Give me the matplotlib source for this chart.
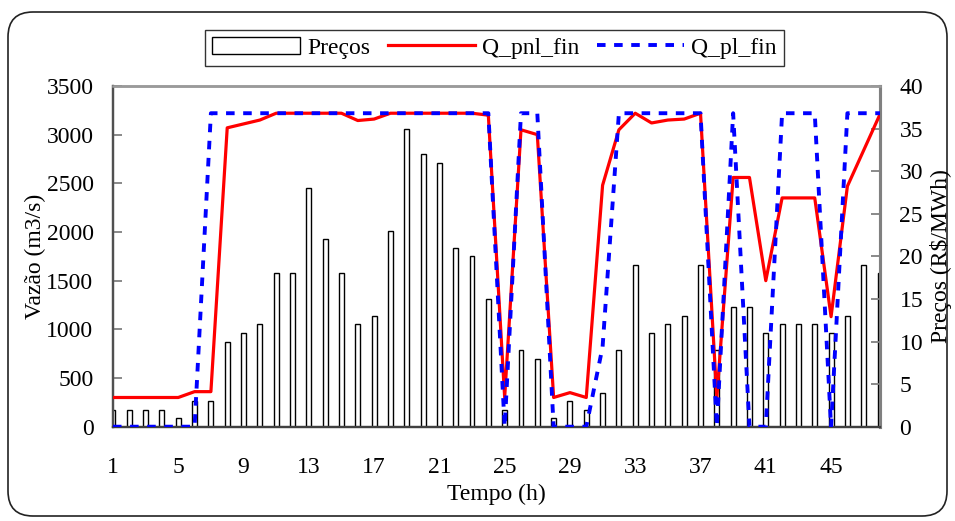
import matplotlib
matplotlib.use("Agg")
import matplotlib.pyplot as plt
from matplotlib.patches import FancyBboxPatch

# Hourly series (48 h horizon)
hours = list(range(1, 49))
precos = [2, 2, 2, 2, 1, 3, 3, 10, 11, 12,
          18, 18, 28, 22, 18, 12, 13, 23, 35, 32,
          31, 21, 20, 15, 2, 9, 8, 1, 3, 2,
          4, 9, 19, 11, 12, 13, 19, 9, 14, 14,
          11, 12, 12, 12, 11, 13, 19, 18]
q_pnl_fin = [300, 300, 300, 300, 300, 360, 360, 3070, 3110, 3150,
             3220, 3220, 3220, 3220, 3220, 3145, 3160, 3220, 3220, 3220,
             3220, 3220, 3220, 3200, 300, 3050, 3000, 300, 350, 300,
             2480, 3050, 3220, 3120, 3150, 3160, 3220, 300, 2560, 2560,
             1500, 2350, 2350, 2350, 1130, 2470, 2840, 3210]
q_pl_fin = [0, 0, 0, 0, 0, 0, 3220, 3220, 3220, 3220,
            3220, 3220, 3220, 3220, 3220, 3220, 3220, 3220, 3220, 3220,
            3220, 3220, 3220, 3220, 0, 3220, 3220, 0, 0, 0,
            820, 3220, 3220, 3220, 3220, 3220, 3220, 0, 3220, 0,
            0, 3220, 3220, 3220, 0, 3220, 3220, 3220]
x_ticks = [1, 5, 9, 13, 17, 21, 25, 29, 33, 37, 41, 45]
left_ticks = [0, 500, 1000, 1500, 2000, 2500, 3000, 3500]
right_ticks = [0, 5, 10, 15, 20, 25, 30, 35, 40]

plt.rcParams['font.family'] = ['Liberation Serif', 'DejaVu Serif']
plt.rcParams['font.size'] = 17

fig = plt.figure(figsize=(9.55, 5.21), dpi=100)

# rounded chart-area border, kept behind both axes
border = FancyBboxPatch((0.08, 0.05), 9.39, 5.04,
                        boxstyle="round,pad=0,rounding_size=0.25",
                        transform=fig.dpi_scale_trans,
                        facecolor="none", edgecolor="#222222", linewidth=1.2,
                        zorder=-1)
fig.patches.append(border)

ax = fig.add_axes([0.1183, 0.181, 0.8032, 0.654])
ax2 = ax.twinx()

# price bars on the secondary axis, drawn beneath the flow lines
bars = ax2.bar(hours, precos, width=0.3, facecolor="white",
               edgecolor="black", linewidth=1.0, label="Preços")
ax2.set_ylim(0, 40)
ax2.set_yticks(right_ticks)

ax.set_zorder(ax2.get_zorder() + 1)
ax.patch.set_visible(False)

l1, = ax.plot(hours, q_pnl_fin, color="#ff0000", linewidth=2.3,
              label="Q_pnl_fin", zorder=3)
l2, = ax.plot(hours, q_pl_fin, color="#0000ff", linewidth=2.8,
              linestyle=(0, (2.2, 2.2)), label="Q_pl_fin", zorder=4)

ax.set_xlim(1, 48)
ax.set_ylim(0, 3500)
ax.set_yticks(left_ticks)
ax.set_xticks(x_ticks)

ax.tick_params(axis="x", length=0, pad=22)
ax.tick_params(axis="y", direction="in", length=6.5, width=1.3,
               color="#808080", pad=14)
ax2.tick_params(axis="y", direction="in", length=6.5, width=1.3,
                color="#808080", pad=14)

for a in (ax, ax2):
    a.spines["left"].set_color("#505050")
    a.spines["left"].set_linewidth(1.6)
    a.spines["bottom"].set_color("#404040")
    a.spines["bottom"].set_linewidth(1.6)
    a.spines["top"].set_color("#9a9a9a")
    a.spines["top"].set_linewidth(1.8)
    a.spines["right"].set_color("#808080")
    a.spines["right"].set_linewidth(2.2)

ax.set_xlabel("Tempo (h)", labelpad=4)
ax.set_ylabel("Vazão (m3/s)", labelpad=0)
ax2.set_ylabel(r"Preços (R\$/MWh)", labelpad=5)

leg = fig.legend([bars, l1, l2], ["Preços", "Q_pnl_fin", "Q_pl_fin"],
                 loc="center", bbox_to_anchor=(0.518, 0.908), ncol=3,
                 frameon=True, fancybox=False, edgecolor="black",
                 handlelength=3.7, handletextpad=0.3, columnspacing=0.75,
                 borderpad=0.3, borderaxespad=0)
leg.get_frame().set_linewidth(1.0)

fig.savefig("out.png", dpi=100)
